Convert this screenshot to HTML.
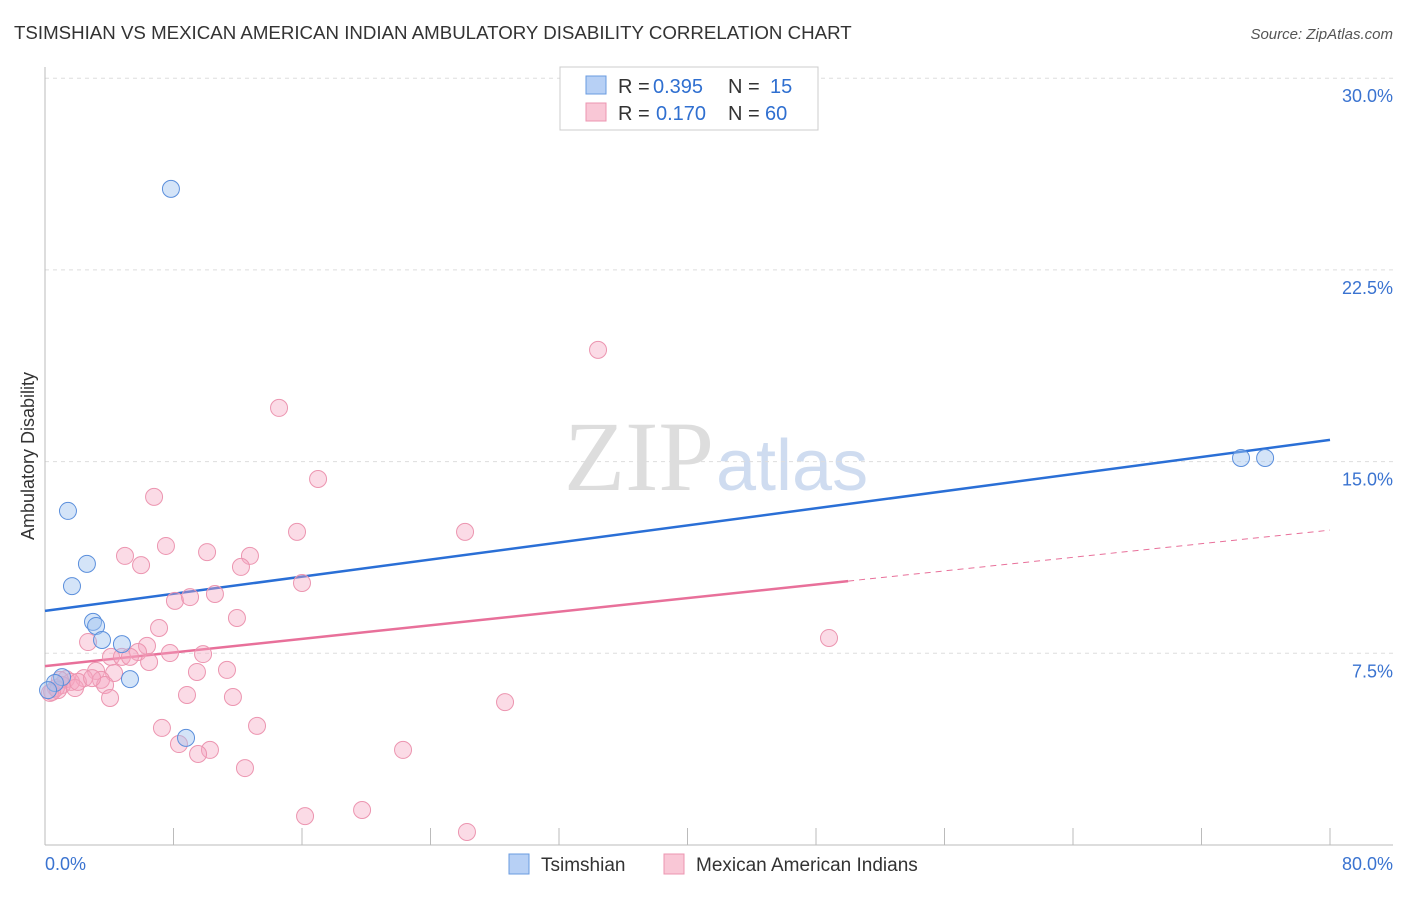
<!DOCTYPE html>
<html><head><meta charset="utf-8"><style>
body{margin:0;background:#fff;font-family:"Liberation Sans",sans-serif;}
</style></head><body>
<svg id="c" width="1406" height="892" xmlns="http://www.w3.org/2000/svg">
<text x="14" y="39" font-size="18.7" fill="#333">TSIMSHIAN VS MEXICAN AMERICAN INDIAN AMBULATORY DISABILITY CORRELATION CHART</text>
<text x="1393" y="39" font-size="15" fill="#555" font-style="italic" text-anchor="end">Source: ZipAtlas.com</text>
<text x="714" y="490" font-size="100" fill="#ddd" text-anchor="end" font-family="Liberation Serif,serif">ZIP</text>
<text x="716" y="490" font-size="72" fill="#cfdcf0">atlas</text>
<text transform="translate(34,456) rotate(-90)" font-size="18" fill="#333" text-anchor="middle">Ambulatory Disability</text>
<g id="grid"></g><g id="axes"></g><g id="lines"></g><g id="pts"></g>
<g>
<rect x="560" y="67" width="258" height="63" fill="#fff" stroke="#ccc"/>
<rect x="586" y="76" width="20" height="18" fill="#b7d0f5" stroke="#6a9be0"/>
<rect x="586" y="103" width="20" height="18" fill="#f9c7d6" stroke="#ec95b0"/>
<text x="618" y="93" font-size="20" fill="#333">R =</text>
<text x="653" y="93" font-size="20" fill="#2f6fd0">0.395</text>
<text x="728" y="93" font-size="20" fill="#333">N =</text>
<text x="770" y="93" font-size="20" fill="#2f6fd0">15</text>
<text x="618" y="120" font-size="20" fill="#333">R =</text>
<text x="656" y="120" font-size="20" fill="#2f6fd0">0.170</text>
<text x="728" y="120" font-size="20" fill="#333">N =</text>
<text x="765" y="120" font-size="20" fill="#2f6fd0">60</text>
</g>
<g>
<rect x="509" y="854" width="20" height="20" fill="#b7d0f5" stroke="#6a9be0"/>
<text x="541" y="871" font-size="19" fill="#333">Tsimshian</text>
<rect x="664" y="854" width="20" height="20" fill="#f9c7d6" stroke="#ec95b0"/>
<text x="696" y="871" font-size="19" fill="#333">Mexican American Indians</text>
</g>
</svg>
<script>
const yTicks=[7.5,15,22.5,30];
const yTickLabels=["7.5%","15.0%","22.5%","30.0%"];
const xTickVals=[0,8,16,24,32,40,48,56,64,72,80];
const blueX=[7.84,1.43,2.61,1.68,2.99,3.18,3.55,4.79,5.29,1.06,0.62,0.19,8.78,74.46,75.96];
const blueY=[25.67,13.07,11.00,10.13,8.73,8.57,8.02,7.86,6.49,6.57,6.34,6.06,4.19,15.14,15.14];
const pinkX=[34.43,14.57,17.00,6.79,15.69,26.15,7.53,10.09,12.76,4.98,5.98,12.20,16.00,8.09,10.58,9.03,11.95,7.10,2.68,6.35,48.81,5.79,4.11,4.79,5.29,7.78,9.84,6.48,3.18,11.33,9.46,4.30,3.49,2.43,1.31,1.62,1.06,0.68,0.44,1.87,3.74,4.05,8.84,11.70,28.64,7.28,13.20,8.34,10.27,9.53,22.29,12.45,16.19,19.74,26.27,0.93,0.31,2.05,2.93,0.81];
const pinkY=[19.37,17.10,14.32,13.62,12.25,12.25,11.70,11.46,11.31,11.31,10.95,10.88,10.25,9.55,9.82,9.70,8.88,8.49,7.94,7.79,8.10,7.55,7.36,7.36,7.36,7.51,7.47,7.16,6.81,6.85,6.77,6.73,6.46,6.53,6.49,6.38,6.26,6.14,5.99,6.14,6.26,5.75,5.87,5.79,5.59,4.58,4.66,3.95,3.72,3.56,3.72,3.01,1.13,1.37,0.51,6.46,5.95,6.38,6.53,6.06];
const blueTrend=[9.16,15.85];
const pinkTrend=[7.0,12.32];
const pinkSolidEnd=50;
const NS="http://www.w3.org/2000/svg";
const X=v=>45+v/80*1285, Y=v=>845-v/7.5*191.7;
function mk(p,t,a){const e=document.createElementNS(NS,t);for(const k in a)e.setAttribute(k,a[k]);document.getElementById(p).appendChild(e);return e;}
yTicks.forEach((t,i)=>{
 const g=mk('grid','line',{x1:45,x2:1393,y1:Y(t),y2:Y(t),stroke:'#ddd','stroke-dasharray':'4,4'});
 
 
 const l=mk('grid','text',{x:1393,y:Y(t)+24,'font-size':18,fill:'#3a73d0','text-anchor':'end'});
 l.textContent=yTickLabels[i];
 
 
});
const ya=mk('axes','line',{x1:45,x2:45,y1:67,y2:845,stroke:'#bbb'});


const xa=mk('axes','line',{x1:45,x2:1393,y1:845,y2:845,stroke:'#bbb'});


xTickVals.forEach(v=>{
 const t=mk('axes','line',{x1:X(v),x2:X(v),y1:828,y2:845,stroke:'#bbb'});
 
 
});
[[0,'0.0%','start',45],[80,'80.0%','end',1393]].forEach(a=>{
 const l=mk('axes','text',{x:a[3],y:870,'font-size':18,fill:'#3a73d0','text-anchor':a[2]});
 l.textContent=a[1];
 
 
});
const lerp=(tr,x)=>tr[0]+(tr[1]-tr[0])*x/80;
const bl=mk('lines','line',{x1:X(0),y1:Y(blueTrend[0]),x2:X(80),y2:Y(blueTrend[1]),stroke:'#2a6fd6','stroke-width':2.5});


const pl=mk('lines','line',{x1:X(0),y1:Y(pinkTrend[0]),x2:X(pinkSolidEnd),y2:Y(lerp(pinkTrend,pinkSolidEnd)),stroke:'#e8709a','stroke-width':2.5});


const pd=mk('lines','line',{x1:X(pinkSolidEnd),y1:Y(lerp(pinkTrend,pinkSolidEnd)),x2:X(80),y2:Y(pinkTrend[1]),stroke:'#e8709a','stroke-width':1,'stroke-dasharray':'6,5'});


pinkX.forEach((x,i)=>{
 const c=mk('pts','circle',{cx:X(x),cy:Y(pinkY[i]),r:8.5,fill:'rgba(244,166,192,0.4)',stroke:'#ec95b0','stroke-width':1});
 
 
});
blueX.forEach((x,i)=>{
 const c=mk('pts','circle',{cx:X(x),cy:Y(blueY[i]),r:8.5,fill:'rgba(160,195,240,0.45)',stroke:'#5b8fdc','stroke-width':1});
 
 
});
</script>
</body></html>
